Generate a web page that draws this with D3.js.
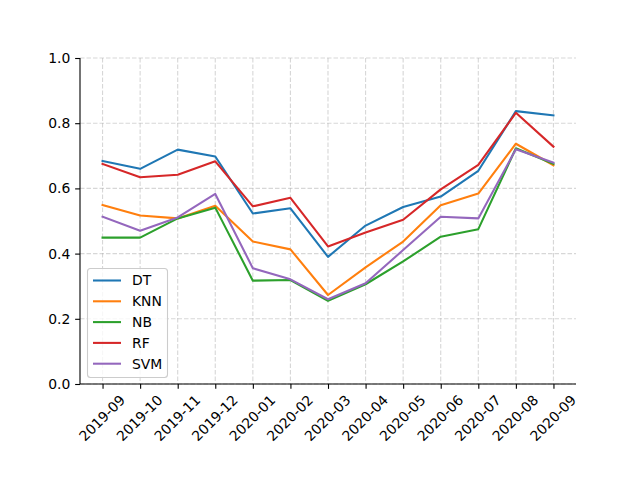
<!DOCTYPE html>
<html><head><meta charset="utf-8">
<script src="https://cdn.jsdelivr.net/npm/d3@7"></script>
<style>body{margin:0;background:#fff;} text{font-family:"DejaVu Sans",sans-serif;}</style>
</head><body><svg id="c" width="640" height="480"></svg>
<script>
const months = ["2019-09","2019-10","2019-11","2019-12","2020-01","2020-02","2020-03","2020-04","2020-05","2020-06","2020-07","2020-08","2020-09"];
const seriesNames = ["DT","KNN","NB","RF","SVM"];
const DT  = [0.684,0.660,0.719,0.698,0.523,0.539,0.390,0.486,0.543,0.575,0.654,0.837,0.824];
const KNN = [0.549,0.517,0.508,0.547,0.437,0.413,0.273,0.358,0.437,0.548,0.584,0.737,0.671];
const NB  = [0.449,0.449,0.508,0.541,0.317,0.319,0.255,0.306,0.376,0.452,0.475,0.723,0.675];
const RF  = [0.675,0.634,0.642,0.683,0.545,0.571,0.422,0.465,0.504,0.597,0.672,0.832,0.728];
const SVM = [0.513,0.470,0.511,0.583,0.355,0.321,0.260,0.309,0.411,0.513,0.508,0.720,0.679];
const yTicks = [0,0.2,0.4,0.6,0.8,1.0];
const colors = ["#1f77b4","#ff7f0e","#2ca02c","#d62728","#9467bd"];
const data = [DT,KNN,NB,RF,SVM];

const svg = d3.select("#c");
const L=80,R=576,T=58,B=384;
const FS = "13.9px";
const x = d3.scaleLinear().domain([-0.6,12.6]).range([L,R]);
const y = d3.scaleLinear().domain([0,1]).range([B,T]);

// grid
const g = svg.append("g");
g.selectAll("line.gx").data(months).enter().append("line")
 .attr("x1",(d,i)=>x(i)).attr("x2",(d,i)=>x(i)).attr("y1",T).attr("y2",B)
 .attr("stroke","#b0b0b0").attr("stroke-opacity",0.5).attr("stroke-width",1.1).attr("stroke-dasharray","4.5,2");
g.selectAll("line.gy").data(yTicks).enter().append("line")
 .attr("x1",L).attr("x2",R).attr("y1",d=>y(d)).attr("y2",d=>y(d))
 .attr("stroke","#b0b0b0").attr("stroke-opacity",0.5).attr("stroke-width",1.1).attr("stroke-dasharray","4.5,2");

// lines
const line = d3.line().x((d,i)=>x(i)).y(d=>y(d));
data.forEach((s,k)=>{
  svg.append("path").datum(s).attr("d",line).attr("fill","none")
   .attr("stroke",colors[k]).attr("stroke-width",2.08).attr("stroke-linejoin","round").attr("stroke-linecap","square");
});

// axes
const yAxis = d3.axisLeft(y).tickValues(yTicks).tickFormat(d3.format(".1f")).tickSize(4.86).tickPadding(4.86);
const ya = svg.append("g").attr("transform",`translate(${L},0)`).call(yAxis);
ya.select(".domain").attr("d",`M0,${T}V${B}`).attr("stroke","#000").attr("stroke-width",1.1);
ya.selectAll("text").attr("font-size",FS).attr("fill","#000").attr("font-family","DejaVu Sans");
ya.selectAll("line").attr("stroke","#000").attr("stroke-width",1.1);

const xAxis = d3.axisBottom(x).tickValues(d3.range(months.length)).tickFormat(i=>months[i]).tickSize(4.86).tickPadding(4.86);
const xa = svg.append("g").attr("transform",`translate(0,${B})`).call(xAxis);
xa.select(".domain").attr("d",`M${L},0H${R}`).attr("stroke","#000").attr("stroke-width",1.1);
xa.selectAll("line").attr("stroke","#000").attr("stroke-width",1.1);
xa.selectAll("text").attr("font-size",FS).attr("fill","#000").attr("font-family","DejaVu Sans")
  .attr("text-anchor","middle").attr("y",0).attr("dy","0.35em").attr("transform","translate(-1,34) rotate(-45)");

// legend
const lg = svg.append("g");
lg.append("rect").attr("x",87.5).attr("y",268.5).attr("width",80).attr("height",109).attr("rx",3)
 .attr("fill","#fff").attr("fill-opacity",0.8).attr("stroke","#ccc").attr("stroke-width",1.1);
seriesNames.forEach((n,k)=>{
  const yy = 280.5 + k*20.8;
  lg.append("line").attr("x1",93).attr("x2",121).attr("y1",yy).attr("y2",yy).attr("stroke",colors[k]).attr("stroke-width",2.08);
  lg.append("text").attr("x",132).attr("y",yy).attr("dy","0.35em").attr("font-size",FS).attr("fill","#000").text(n);
});
</script></body></html>
